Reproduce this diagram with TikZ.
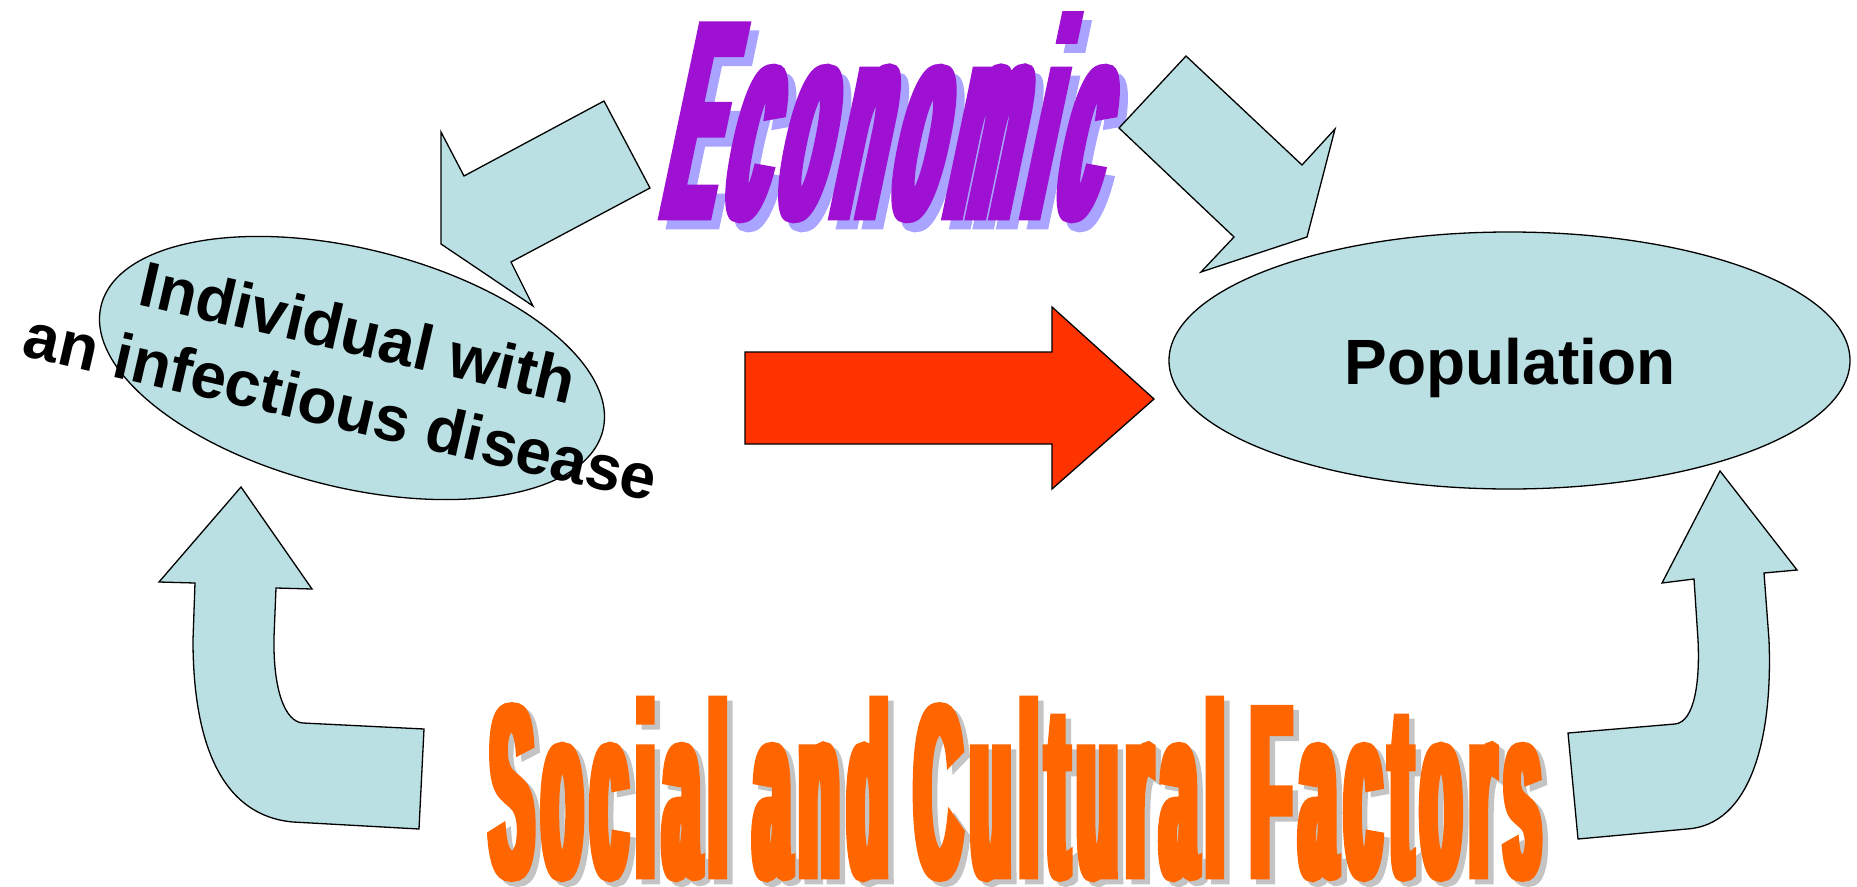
\documentclass[tikz,border=0pt]{standalone}
\usepackage{fontspec}
\usepackage{graphicx}
\setmainfont{Liberation Sans}
\newfontfamily\wordartfont{Liberation Sans Bold}[FakeStretch=0.1,FakeBold=1.5,LetterSpace=1.4]
\usetikzlibrary{shapes.geometric}
\definecolor{shapefill}{RGB}{186,224,227}
\definecolor{redarrow}{RGB}{255,51,0}
\definecolor{socialorange}{RGB}{255,102,0}
\definecolor{socialshadow}{RGB}{196,196,196}
\definecolor{econshadow}{RGB}{168,164,255}
\definecolor{econmain}{RGB}{158,16,210}
\newcommand{\econword}{\resizebox{434pt}{205pt}{\wordartfont\fontsize{100pt}{100pt}\selectfont Economic}}
\newcommand{\socialword}{\resizebox{1050pt}{180pt}{\wordartfont\fontsize{100pt}{100pt}\selectfont Social and Cultural Factors}}
\tikzset{
  blockshape/.style={draw=black,line width=1.3pt,fill=shapefill,line join=miter},
  redblock/.style={draw=black,line width=1.3pt,fill=redarrow,line join=miter},
  bubble/.style={ellipse,draw=black,line width=1.3pt,fill=shapefill,inner sep=0pt},
  bubbletext/.style={font=\bfseries\fontsize{64pt}{76pt}\selectfont,text=black,align=center,inner sep=0pt},
  wordart/.style={anchor=south west,inner sep=0pt,outer sep=0pt}
}
\begin{document}
\begin{tikzpicture}[x=1pt,y=-1pt]
\useasboundingbox (0,0) rectangle (1857,886);
% Economic word art
\node[wordart,xslant=0.21,text=econshadow] (econshadow) at (666,230) {\econword};
\node[wordart,xslant=0.21,text=econmain] (econ) at (658,221) {\econword};
% ellipses
\node[bubble,minimum width=517pt,minimum height=238.6pt,rotate=-14] (individual) at (352,368) {};
\node[bubble,minimum width=681pt,minimum height=257pt] (population) at (1509.5,360.5) {};
\node[bubbletext,rotate=-13] (individualtext) at (350,369) {Individual with\\an infectious disease};
\node[bubbletext,anchor=base] (populationtext) at (1510,384) {Population};
% block arrows from Economic
\draw[blockshape] (604,101) -- (650,188) -- (511,262) -- (533,306) -- (441,244) -- (441,132) -- (464,176) -- cycle;
\draw[blockshape] (1186,56) -- (1302,165) -- (1335,129) -- (1307,237) -- (1201,272) -- (1234,237) -- (1119,128) -- cycle;
% red arrow
\draw[redblock] (745,352) -- (1052,352) -- (1052,307) -- (1154,399) -- (1052,489) -- (1052,444) -- (745,444) -- cycle;
% bent arrows
\draw[blockshape] (241,487) -- (312,589) -- (276,588) -- (274,637) .. controls (273,690) and (285,722) .. (303,723) -- (424,729) -- (419,829) -- (293,822) .. controls (215,815) and (193,730) .. (193,640) -- (195,583) -- (159,582) -- cycle;
\draw[blockshape] (1720,471) -- (1797,570) -- (1764,573) -- (1769,640) .. controls (1773,740) and (1750,825) .. (1687,829) -- (1578,839) -- (1568,733) -- (1675,724) .. controls (1695,722) and (1700,680) .. (1698,640) -- (1694,579) -- (1662,583) -- cycle;
% Social and Cultural Factors
\node[wordart,text=socialshadow] (socialshadow) at (495.5,885) {\socialword};
\node[wordart,text=socialorange] (social) at (490,880) {\socialword};
\end{tikzpicture}
\end{document}
